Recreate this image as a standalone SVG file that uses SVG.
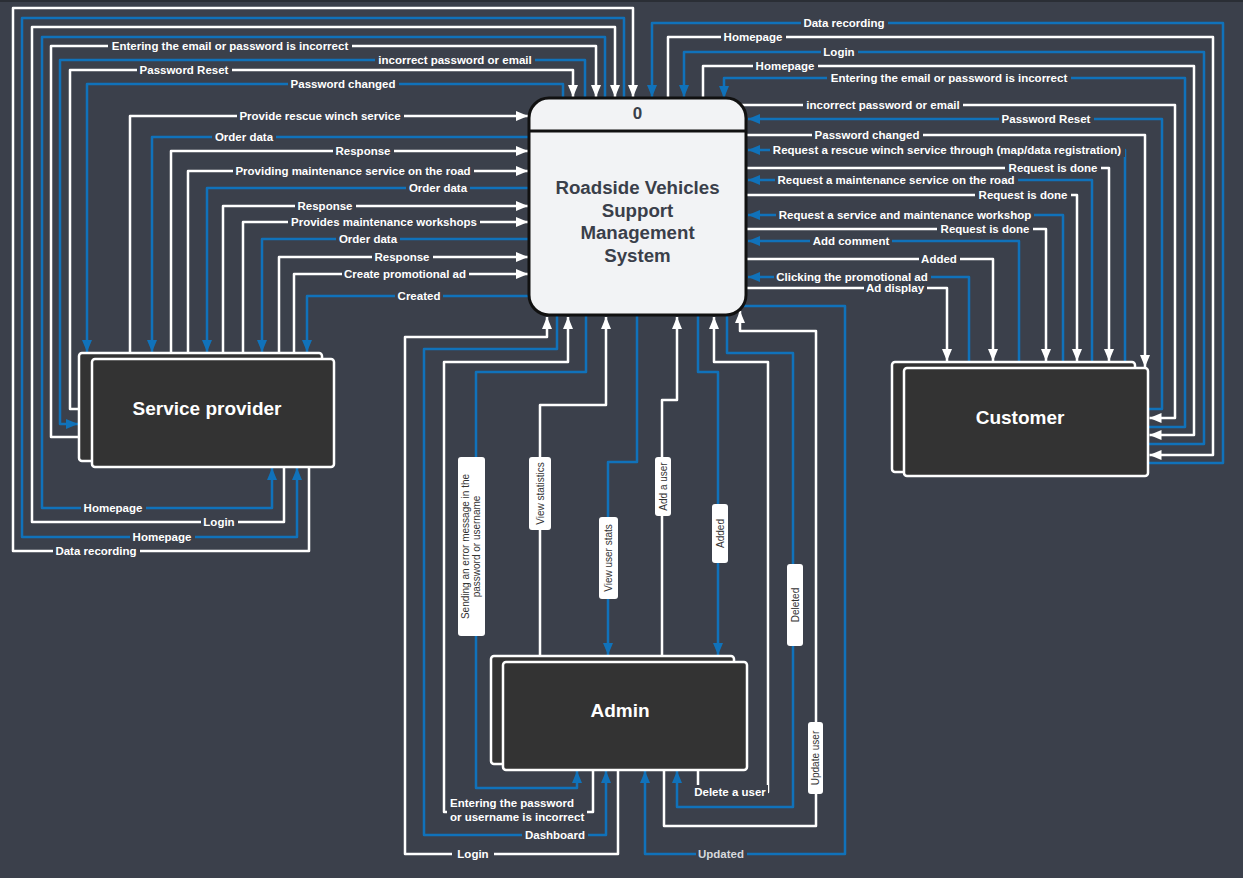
<svg xmlns="http://www.w3.org/2000/svg" width="1243" height="878" viewBox="0 0 1243 878">
<defs>
<style>
.w{fill:none;stroke:#ffffff;stroke-width:2.5;stroke-linejoin:round}
.b{fill:none;stroke:#1072ba;stroke-width:2.5;stroke-linejoin:round}
.wa{marker-end:url(#aw)}
.ba{marker-end:url(#ab)}
.lb{fill:#3b404b}
.lt{font-family:"Liberation Sans",Arial,sans-serif;font-size:11.5px;font-weight:bold;fill:#ffffff;text-anchor:middle}
.vb{fill:#ffffff}
.vt{font-family:"Liberation Sans",Arial,sans-serif;font-size:10px;fill:#333333;text-anchor:middle}
.node{fill:#333333;stroke:#ffffff;stroke-width:2.5}
.nt{font-family:"Liberation Sans",Arial,sans-serif;font-size:19px;font-weight:bold;fill:#ffffff;text-anchor:middle}
.ct{font-family:"Liberation Sans",Arial,sans-serif;font-size:18.7px;font-weight:bold;fill:#3a3f4a;text-anchor:middle}
</style>
<marker id="aw" viewBox="0 0 12 10" refX="12" refY="5" markerWidth="12" markerHeight="10" markerUnits="userSpaceOnUse" orient="auto"><path d="M0,0 L12,5 L0,10 z" fill="#ffffff"/></marker>
<marker id="ab" viewBox="0 0 12 10" refX="12" refY="5" markerWidth="12" markerHeight="10" markerUnits="userSpaceOnUse" orient="auto"><path d="M0,0 L12,5 L0,10 z" fill="#1072ba"/></marker>
</defs>
<rect x="0" y="0" width="1243" height="878" fill="#3b404b"/>
<rect x="0" y="0" width="1243" height="2" fill="#2a2e35"/>

<g id="connectors">
<!-- left loops -->
<path class="w wa" d="M309,467 V551 H13 V8 H633 V97"/>
<path class="b ba" d="M624,99 V18 H22 V537 H297 V468"/>
<path class="w wa" d="M284,467 V522 H32 V27 H615 V97"/>
<path class="b ba" d="M605,99 V37 H42 V508 H272 V468"/>
<path class="w wa" d="M80,437 H51 V46 H596 V97"/>
<path class="b ba" d="M585,99 V60 H60 V424 H78"/>
<path class="w wa" d="M80,409 H70 V70 H573 V97"/>
<path class="b ba" d="M563,99 V84 H87 V352"/>
<!-- left horizontals -->
<path class="w wa" d="M130,354 V116 H528"/>
<path class="b ba" d="M530,137 H152 V352"/>
<path class="w wa" d="M171,354 V151 H528"/>
<path class="w wa" d="M188,354 V171 H528"/>
<path class="b ba" d="M530,188 H207 V352"/>
<path class="w wa" d="M223,354 V206 H528"/>
<path class="w wa" d="M243,354 V222 H528"/>
<path class="b ba" d="M530,239 H262 V352"/>
<path class="w wa" d="M279,354 V257 H528"/>
<path class="w wa" d="M294,354 V274 H528"/>
<path class="b ba" d="M530,296 H307 V352"/>
<!-- right loops -->
<path class="b ba" d="M1147,463 H1223 V23 H652 V97"/>
<path class="w wa" d="M668,99 V37 H1213 V455 H1149.5"/>
<path class="b ba" d="M1147,444 H1204 V52 H684 V97"/>
<path class="w wa" d="M703,99 V66 H1194 V435 H1149.5"/>
<path class="b ba" d="M1147,427 H1185 V78 H724 V98"/>
<path class="w wa" d="M740,105 H1175 V418 H1149.5"/>
<path class="b ba" d="M1147,409 H1162 V119 H748"/>
<path class="w wa" d="M745,135 H1145 V367"/>
<path class="b ba" d="M1125,363 V150 H748"/>
<path class="w wa" d="M745,168 H1109 V361"/>
<path class="b ba" d="M1092,363 V180 H748"/>
<path class="w wa" d="M745,195 H1077 V361"/>
<path class="b ba" d="M1063,363 V215 H748"/>
<path class="w wa" d="M745,229 H1046 V361"/>
<path class="b ba" d="M1019,363 V241 H748"/>
<path class="w wa" d="M745,259 H993 V361"/>
<path class="b ba" d="M969,363 V277 H748"/>
<path class="w wa" d="M745,288 H947 V361"/>
<!-- bottom -->
<path class="w wa" d="M618,769 V854 H405 V337 H547 V317"/>
<path class="b ba" d="M557,314 V349 H424 V835 H606 V771"/>
<path class="w wa" d="M593,769 V812 H444 V362 H568 V317"/>
<path class="b ba" d="M586,314 V372 H476 V788 H577 V771"/>
<path class="w wa" d="M540,657 V405 H606 V317"/>
<path class="b ba" d="M637,314 V462 H608 V655"/>
<path class="w wa" d="M662,657 V400 H677 V317"/>
<path class="b ba" d="M698,314 V372 H718 V655"/>
<path class="w wa" d="M698,769 V792 H768 V362 H714 V317"/>
<path class="b ba" d="M727,313 V353 H793 V807 H677 V771"/>
<path class="w wa" d="M664,769 V826 H816 V331 H740 V311"/>
<path class="b ba" d="M742,306 H845 V854 H645 V771"/>

<g id="labels">
<rect class="lb" x="53" y="544" width="87" height="14"/><text class="lt" x="96" y="555">Data recording</text>
<rect class="lb" x="81" y="501" width="65" height="14"/><text class="lt" x="113" y="512">Homepage</text>
<rect class="lb" x="201" y="515" width="37" height="14"/><text class="lt" x="219" y="526">Login</text>
<rect class="lb" x="130" y="530" width="65" height="14"/><text class="lt" x="162" y="541">Homepage</text>
<rect class="lb" x="108" y="39" width="244" height="14"/><text class="lt" x="230" y="50">Entering the email or password is incorrect</text>
<rect class="lb" x="375" y="53" width="160" height="14"/><text class="lt" x="455" y="64">incorrect password or email</text>
<rect class="lb" x="137" y="63" width="95" height="14"/><text class="lt" x="184" y="74">Password Reset</text>
<rect class="lb" x="288" y="77" width="111" height="14"/><text class="lt" x="343" y="88">Password changed</text>
<rect class="lb" x="237" y="109" width="167" height="14"/><text class="lt" x="320" y="120">Provide rescue winch service</text>
<rect class="lb" x="212" y="130" width="64" height="14"/><text class="lt" x="244" y="141">Order data</text>
<rect class="lb" x="333" y="144" width="61" height="14"/><text class="lt" x="363" y="155">Response</text>
<rect class="lb" x="233" y="164" width="241" height="14"/><text class="lt" x="353" y="175">Providing maintenance service on the road</text>
<rect class="lb" x="406" y="181" width="64" height="14"/><text class="lt" x="438" y="192">Order data</text>
<rect class="lb" x="295" y="199" width="61" height="14"/><text class="lt" x="325" y="210">Response</text>
<rect class="lb" x="288" y="215" width="192" height="14"/><text class="lt" x="384" y="226">Provides maintenance workshops</text>
<rect class="lb" x="336" y="232" width="64" height="14"/><text class="lt" x="368" y="243">Order data</text>
<rect class="lb" x="372" y="250" width="61" height="14"/><text class="lt" x="402" y="261">Response</text>
<rect class="lb" x="342" y="267" width="127" height="14"/><text class="lt" x="405" y="278">Create promotional ad</text>
<rect class="lb" x="395" y="289" width="48" height="14"/><text class="lt" x="419" y="300">Created</text>

<rect class="lb" x="801" y="16" width="87" height="14"/><text class="lt" x="844" y="27">Data recording</text>
<rect class="lb" x="721" y="30" width="65" height="14"/><text class="lt" x="753" y="41">Homepage</text>
<rect class="lb" x="821" y="45" width="37" height="14"/><text class="lt" x="839" y="56">Login</text>
<rect class="lb" x="753" y="59" width="65" height="14"/><text class="lt" x="785" y="70">Homepage</text>
<rect class="lb" x="827" y="71" width="244" height="14"/><text class="lt" x="949" y="82">Entering the email or password is incorrect</text>
<rect class="lb" x="803" y="98" width="160" height="14"/><text class="lt" x="883" y="109">incorrect password or email</text>
<rect class="lb" x="999" y="112" width="95" height="14"/><text class="lt" x="1046" y="123">Password Reset</text>
<rect class="lb" x="812" y="128" width="111" height="14"/><text class="lt" x="867" y="139">Password changed</text>
<rect class="lb" x="770" y="143" width="355" height="14"/><text class="lt" x="947" y="154">Request a rescue winch service through (map/data registration)</text>
<rect class="lb" x="1005" y="161" width="96" height="14"/><text class="lt" x="1053" y="172">Request is done</text>
<rect class="lb" x="775" y="173" width="243" height="14"/><text class="lt" x="896" y="184">Request a maintenance service on the road</text>
<rect class="lb" x="975" y="188" width="96" height="14"/><text class="lt" x="1023" y="199">Request is done</text>
<rect class="lb" x="776" y="208" width="258" height="14"/><text class="lt" x="905" y="219">Request a service and maintenance workshop</text>
<rect class="lb" x="937" y="222" width="96" height="14"/><text class="lt" x="985" y="233">Request is done</text>
<rect class="lb" x="810" y="234" width="82" height="14"/><text class="lt" x="851" y="245">Add comment</text>
<rect class="lb" x="919" y="252" width="41" height="14"/><text class="lt" x="939" y="263">Added</text>
<rect class="lb" x="774" y="270" width="157" height="14"/><text class="lt" x="852" y="281">Clicking the promotional ad</text>
<rect class="lb" x="864" y="281" width="63" height="14"/><text class="lt" x="895" y="292">Ad display</text>

<rect class="lb" x="452" y="847" width="42" height="14"/><text class="lt" x="473" y="858">Login</text>
<rect class="lb" x="522" y="828" width="66" height="14"/><text class="lt" x="555" y="839">Dashboard</text>
<rect class="lb" x="692" y="785" width="76" height="14"/><text class="lt" x="730" y="796">Delete a user</text>
<rect class="lb" x="696" y="847" width="51" height="14"/><text class="lt" x="721" y="858" style="fill:#d6d8dc">Updated</text>
<rect class="lb" x="447" y="796" width="140" height="28"/>
<text class="lt" style="text-anchor:start" x="450" y="807">Entering the password</text>
<text class="lt" style="text-anchor:start" x="450" y="821">or username is incorrect</text>

<rect class="vb" x="458" y="457" width="27" height="179" rx="3"/>
<text class="vt" transform="translate(471.5,546.5) rotate(-90)"><tspan x="0" y="-2.2">Sending an error message in the</tspan><tspan x="0" y="8.8">password or username</tspan></text>
<rect class="vb" x="529" y="457" width="22" height="73" rx="3"/>
<text class="vt" transform="translate(540,493.5) rotate(-90)" y="3.6">View statistics</text>
<rect class="vb" x="599" y="517" width="19" height="82" rx="3"/>
<text class="vt" transform="translate(608.5,558) rotate(-90)" y="3.6">View user stats</text>
<rect class="vb" x="655" y="457" width="16" height="59" rx="3"/>
<text class="vt" transform="translate(663,486.5) rotate(-90)" y="3.6">Add a user</text>
<rect class="vb" x="712" y="504" width="16" height="59" rx="3"/>
<text class="vt" transform="translate(720,533.5) rotate(-90)" y="3.6">Added</text>
<rect class="vb" x="787" y="564" width="16" height="82" rx="3"/>
<text class="vt" transform="translate(795,605) rotate(-90)" y="3.6">Deleted</text>
<rect class="vb" x="808" y="722" width="15" height="72" rx="3"/>
<text class="vt" transform="translate(815.5,758) rotate(-90)" y="3.6">Update user</text>
</g>
</g>

<g id="central">
<rect x="529" y="98" width="217" height="217" rx="20" fill="#f2f3f5" stroke="#111111" stroke-width="3"/>
<line x1="529" y1="131" x2="746" y2="131" stroke="#111111" stroke-width="3"/>
<text class="ct" x="637.5" y="119" style="font-size:17px">0</text>
<text class="ct" x="637.5" y="194">Roadside Vehicles</text>
<text class="ct" x="637.5" y="217">Support</text>
<text class="ct" x="637.5" y="239">Management</text>
<text class="ct" x="637.5" y="262">System</text>
</g>

<g id="service-provider">
<rect class="node" x="79" y="353" width="243" height="108" rx="3"/>
<rect class="node" x="92" y="359" width="242" height="108" rx="3"/>
<text class="nt" x="207" y="415">Service provider</text>
</g>

<g id="customer">
<rect class="node" x="892" y="362" width="243" height="110" rx="3"/>
<rect class="node" x="904" y="368" width="244" height="108" rx="3"/>
<text class="nt" x="1020" y="424">Customer</text>
</g>

<g id="admin">
<rect class="node" x="491" y="656" width="243" height="108" rx="3"/>
<rect class="node" x="503" y="662" width="244" height="108" rx="3"/>
<text class="nt" x="620" y="717">Admin</text>
</g>
</svg>
